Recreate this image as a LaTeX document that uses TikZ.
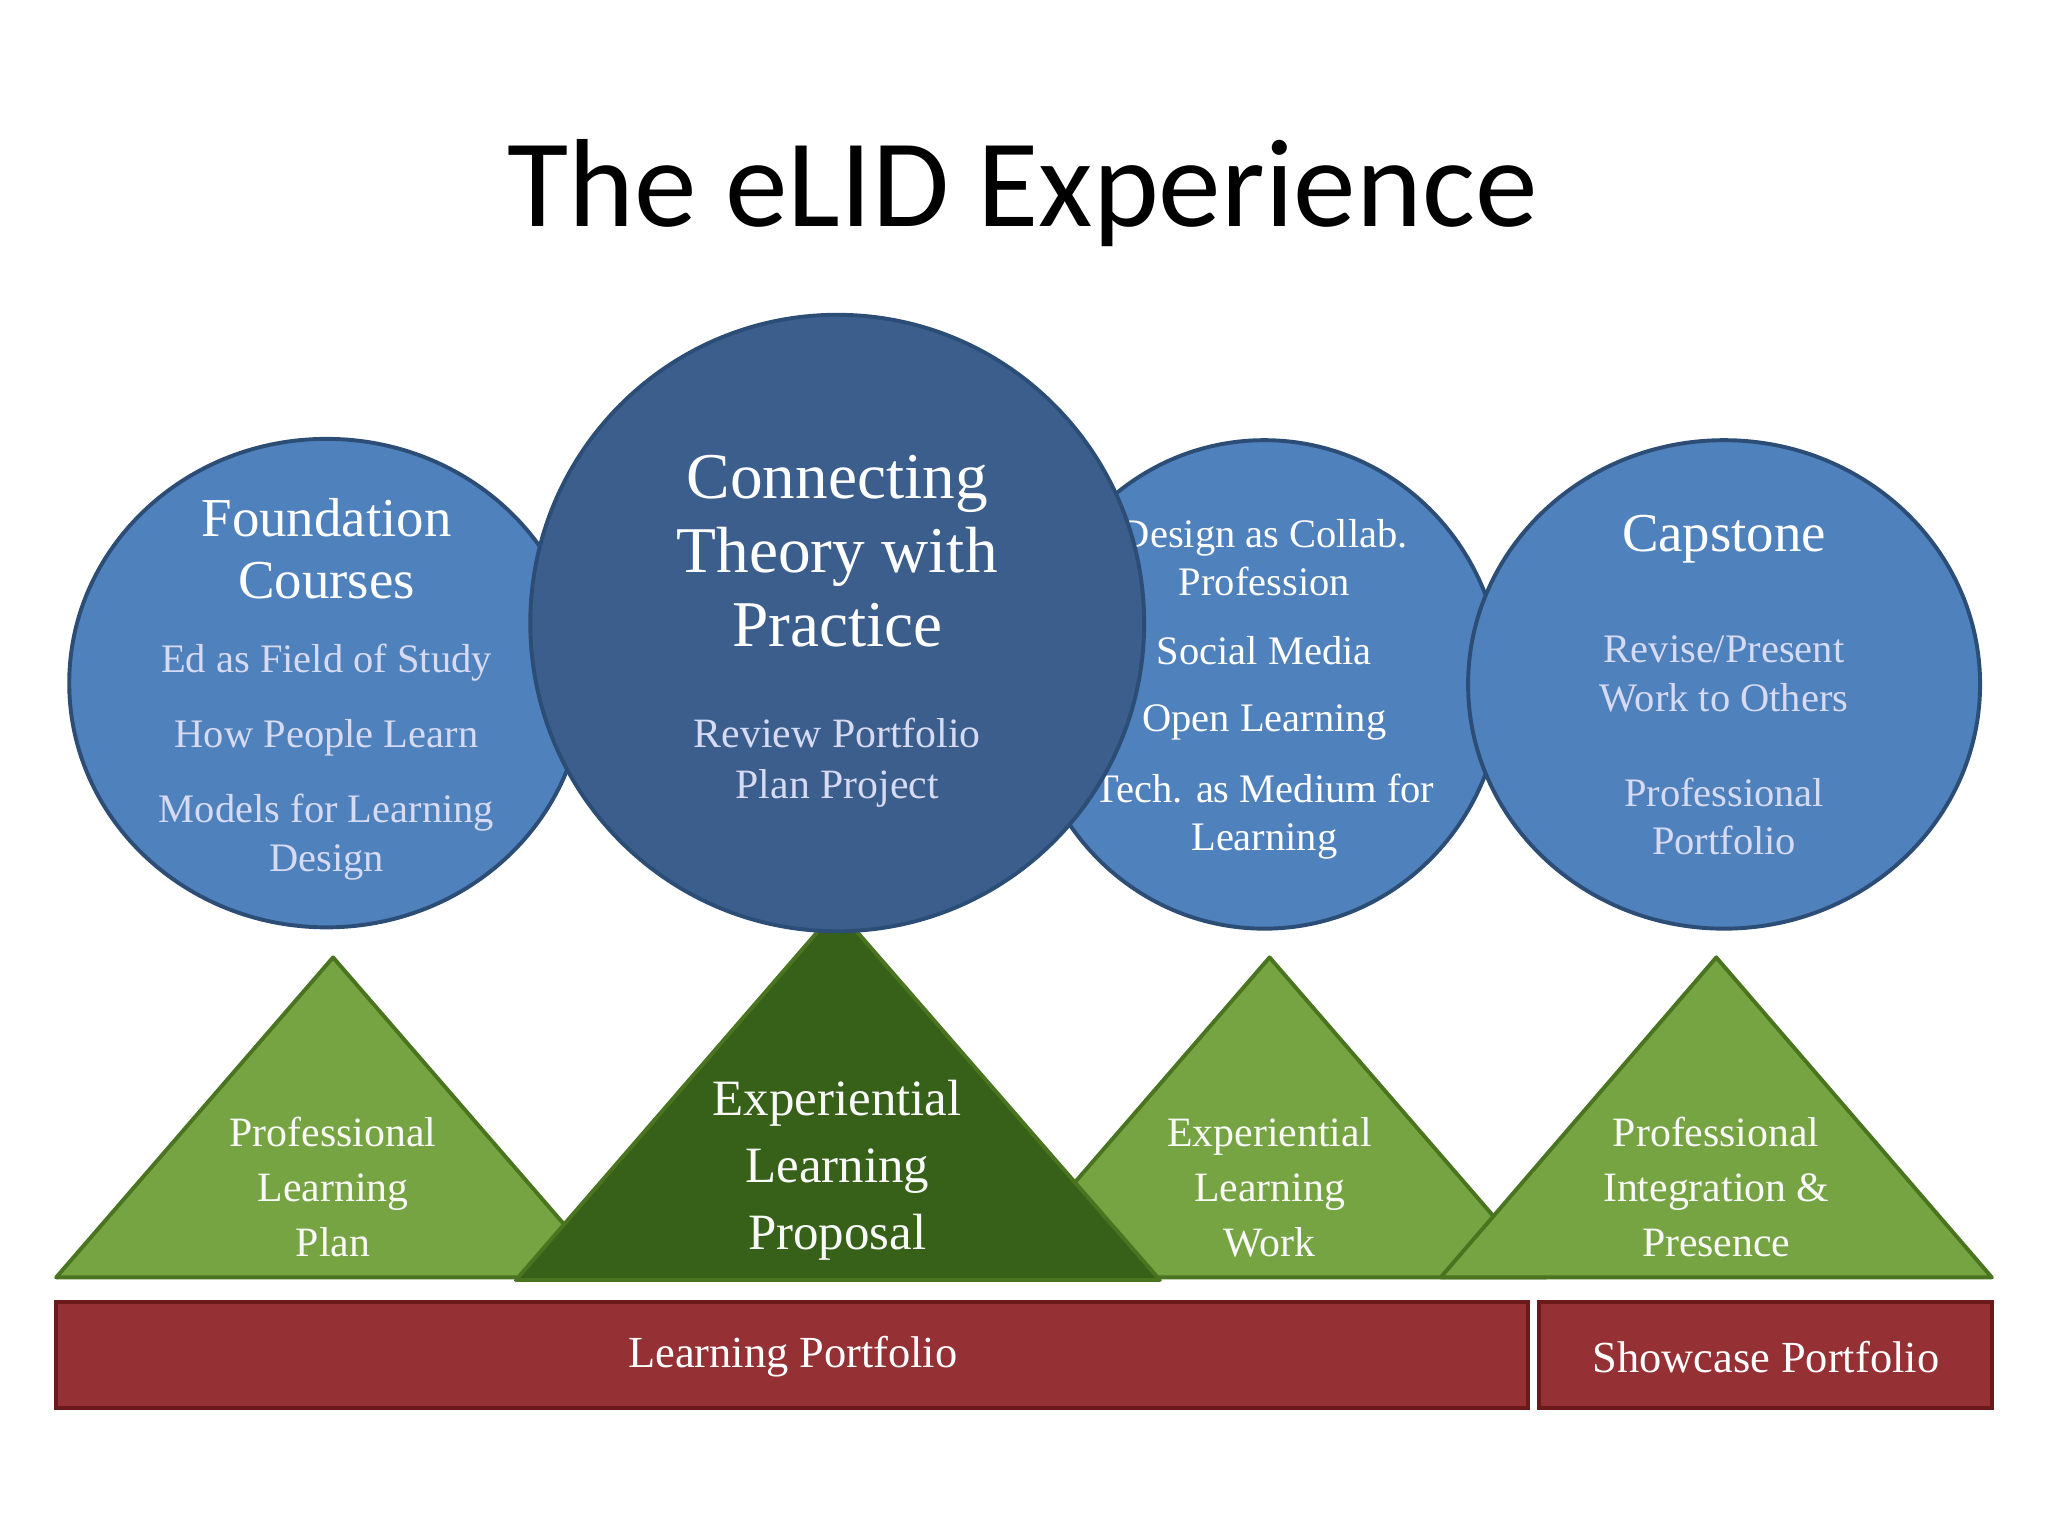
\documentclass[tikz,border=0pt]{standalone}
\usepackage{fontspec}
\setmainfont{Liberation Serif}
\newfontfamily\titlefont{Carlito}
\definecolor{cblue}{HTML}{4F81BD}
\definecolor{cbluedk}{HTML}{2C4D75}
\definecolor{cmid}{HTML}{3B5E8C}
\definecolor{lav}{HTML}{D6DAF2}
\definecolor{tgreen}{HTML}{77A442}
\definecolor{tgreendk}{HTML}{4A7420}
\definecolor{dgreen}{HTML}{376118}
\definecolor{bred}{HTML}{953134}
\definecolor{breddk}{HTML}{6B1A1C}
\begin{document}
\begin{tikzpicture}[x=1pt,y=-1pt,
  circ/.style={draw=cbluedk,line width=3pt,fill=cblue},
  tri/.style={draw=tgreendk,line width=3pt,fill=tgreen,line join=round},
  bar/.style={draw=breddk,line width=3pt,fill=bred},
  hd/.style={text=white,align=center,inner sep=0pt,font=\fontsize{42}{47}\selectfont},
  it/.style={text=lav,align=center,inner sep=0pt,font=\fontsize{31}{37}\selectfont},
  tt/.style={text=white!95!gray,align=center,inner sep=0pt,font=\fontsize{32}{42}\selectfont}]
\useasboundingbox (0,0) rectangle (1568,1176);
\node[inner sep=0pt,font=\titlefont\fontsize{96}{100}\selectfont] (title) at (783,148) {The eLID Experience};
% triangles
\draw[tri] (43,978) -- (255,733) -- (467,978) -- cycle;
\draw[tri] (760,978) -- (972,733) -- (1184,978) -- cycle;
\draw[tri] (1103,978) -- (1314,733) -- (1525,978) -- cycle;
\draw[tri,fill=dgreen] (395,980) -- (641,696) -- (888,980) -- cycle;
\node[tt] (t1) at (255,909) {Professional\\Learning\\Plan};
\node[tt] (t3) at (972,909) {Experiential\\Learning\\Work};
\node[tt] (t4) at (1314,909) {Professional\\Integration \&\\Presence};
\node[tt,font=\fontsize{39}{51}\selectfont] (t2) at (641,896) {Experiential\\Learning\\Proposal};
% circles
\draw[circ] (250,523) ellipse [x radius=197,y radius=187];
\node[hd] (c1h) at (250,420) {Foundation\\Courses};
\node[it] (c1a) at (250,507) {Ed as Field of Study};
\node[it] (c1b) at (250,565) {How People Learn};
\node[it] (c1c) at (250,641) {Models for Learning\\Design};
\draw[circ] (968,524) ellipse [x radius=182,y radius=187];
\node[it,text=white] (c3a) at (968,427) {Design as Collab.\\Profession};
\node[it,text=white] (c3b) at (968,498) {Social Media};
\node[it,text=white] (c3c) at (968,553) {Open Learning};
\node[it,text=white] (c3d) at (968,625) {Tech. as Medium for\\Learning};
\draw[circ] (1320,524) ellipse [x radius=196,y radius=187];
\node[hd] (c4h) at (1320,413) {Capstone};
\node[it] (c4a) at (1320,516) {Revise/Present\\Work to Others};
\node[it] (c4b) at (1320,625) {Professional\\Portfolio};
\draw[circ,fill=cmid] (641,477) ellipse [x radius=235,y radius=236];
\node[hd,font=\fontsize{50}{57}\selectfont] (c2h) at (641,422) {Connecting\\Theory with\\Practice};
\node[it,font=\fontsize{32}{39}\selectfont] (c2a) at (641,584) {Review Portfolio\\Plan Project};
% bars
\draw[bar] (43,997) rectangle (1170,1078);
\draw[bar] (1178,997) rectangle (1525,1078);
\node[text=white,inner sep=0pt,font=\fontsize{34}{40}\selectfont] (b1) at (607,1039) {Learning Portfolio};
\node[text=white,inner sep=0pt,font=\fontsize{34}{40}\selectfont] (b2) at (1352,1039) {Showcase Portfolio};
\end{tikzpicture}
\end{document}
